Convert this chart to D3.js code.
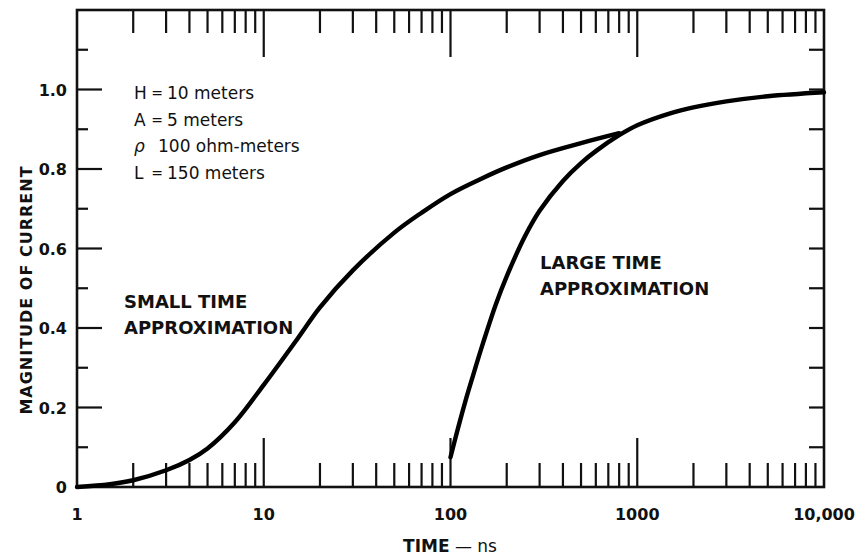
<!DOCTYPE html>
<html><head><meta charset="utf-8">
<script src="https://cdn.jsdelivr.net/npm/d3@7"></script>
<style>
html,body{margin:0;padding:0;background:#fff;}
svg{display:block;}
text{font-family:"DejaVu Sans","Liberation Sans",Arial,sans-serif;fill:#111;}
</style></head>
<body>
<svg id="chart" width="857" height="557"></svg>
<script>
// ---- data ----
const smallTimeT = [1, 1.5, 2, 3, 4, 5, 7, 10, 15, 20, 30, 50, 70, 100, 150, 200, 300, 500, 800];
const smallTimeI = [0, 0.007, 0.017, 0.042, 0.068, 0.097, 0.163, 0.257, 0.37, 0.452, 0.545, 0.64, 0.69, 0.737, 0.778, 0.804, 0.835, 0.865, 0.89];
const largeTimeT = [100, 110, 120, 130, 150, 175, 200, 250, 300, 400, 500, 600, 800, 1000, 1500, 2000, 3000, 5000, 10000];
const largeTimeI = [0.075, 0.15, 0.215, 0.27, 0.365, 0.46, 0.53, 0.63, 0.695, 0.77, 0.815, 0.845, 0.885, 0.91, 0.94, 0.955, 0.97, 0.983, 0.993];
const xTickValues = [1, 10, 100, 1000, 10000];
const xTickLabels = ["1", "10", "100", "1000", "10,000"];
const yTickValues = [0, 0.2, 0.4, 0.6, 0.8, 1.0];
const yTickLabels = ["0", "0.2", "0.4", "0.6", "0.8", "1.0"];
const paramLabels = ["H", "A", "\u03C1", "L"];
const paramSigns = ["=", "=", "", "="];
const paramValues = ["10 meters", "5 meters", "100 ohm-meters", "150 meters"];

const svg = d3.select("#chart");
const L = 77, R = 824, T = 10, B = 487;
const x = d3.scaleLog().domain([1, 10000]).range([L, R]);
const y = d3.scaleLinear().domain([0, 1.2]).range([B, T]);

// minor log ticks
const minorT = [];
for (let d = 1; d < 10000; d *= 10) for (let k = 2; k <= 9; k++) minorT.push(d * k);
const majorInner = [10, 100, 1000];

const g = svg.append("g").attr("stroke", "#111").attr("stroke-width", 2.2);
minorT.forEach(t => g.append("line").attr("x1", x(t)).attr("x2", x(t)).attr("y1", B).attr("y2", B - 24));
majorInner.forEach(t => g.append("line").attr("x1", x(t)).attr("x2", x(t)).attr("y1", B).attr("y2", B - 49));
minorT.forEach(t => g.append("line").attr("x1", x(t)).attr("x2", x(t)).attr("y1", T).attr("y2", T + 23));
majorInner.forEach(t => g.append("line").attr("x1", x(t)).attr("x2", x(t)).attr("y1", T).attr("y2", T + 47));
d3.range(1, 12).forEach(i => {
  const v = i / 10, major = i % 2 === 0;
  g.append("line").attr("x1", L).attr("x2", L + (major ? 25 : 11)).attr("y1", y(v)).attr("y2", y(v));
  g.append("line").attr("x1", R).attr("x2", R - 15).attr("y1", y(v)).attr("y2", y(v));
});
svg.append("rect").attr("x", L).attr("y", T).attr("width", R - L).attr("height", B - T)
  .attr("fill", "none").attr("stroke", "#111").attr("stroke-width", 2.6);

// tick labels
svg.append("g").selectAll("text").data(xTickValues).join("text")
  .attr("x", d => x(d)).attr("y", 520).attr("text-anchor", "middle")
  .attr("font-size", 16).attr("font-weight", "bold")
  .text((d, i) => xTickLabels[i]);
svg.append("g").selectAll("text").data(yTickValues).join("text")
  .attr("x", 67).attr("y", d => y(d) + 6).attr("text-anchor", "end")
  .attr("font-size", 16).attr("font-weight", "bold")
  .text((d, i) => yTickLabels[i]);

// axis titles
const xt = svg.append("text").attr("x", 450).attr("y", 552).attr("text-anchor", "middle").attr("font-size", 17);
xt.append("tspan").attr("font-weight", "bold").text("TIME");
xt.append("tspan").text(" \u2014 ns");
svg.append("text").attr("transform", "translate(32,290) rotate(-90)").attr("text-anchor", "middle")
  .attr("font-size", 16).attr("font-weight", "bold").attr("letter-spacing", 1).text("MAGNITUDE OF CURRENT");

// curves
const line = d3.line().x(d => x(d[0])).y(d => y(d[1])).curve(d3.curveCatmullRom.alpha(0.5));
svg.append("path").datum(smallTimeT.map((t, i) => [t, smallTimeI[i]]))
  .attr("d", line).attr("fill", "none").attr("stroke", "#000").attr("stroke-width", 4.4).attr("stroke-linecap", "round");
svg.append("path").datum(largeTimeT.map((t, i) => [t, largeTimeI[i]]))
  .attr("d", line).attr("fill", "none").attr("stroke", "#000").attr("stroke-width", 4.4).attr("stroke-linecap", "round");

// parameter annotations
const pg = svg.append("g").attr("font-size", 17);
paramLabels.forEach((p, i) => {
  const yy = 99 + i * 26.7;
  pg.append("text").attr("x", 134).attr("y", yy).attr("font-style", p === "\u03C1" ? "italic" : "normal").text(p);
  pg.append("text").attr("x", 157).attr("y", yy - 1).attr("text-anchor", "middle").attr("font-size", 14).text(paramSigns[i]);
  pg.append("text").attr("x", p === "\u03C1" ? 158 : 167).attr("y", yy).text(paramValues[i]);
});

// curve labels
const lg = svg.append("g").attr("font-size", 18).attr("font-weight", "bold");
lg.append("text").attr("x", 124).attr("y", 308).text("SMALL TIME");
lg.append("text").attr("x", 124).attr("y", 334).text("APPROXIMATION");
lg.append("text").attr("x", 540).attr("y", 269).text("LARGE TIME");
lg.append("text").attr("x", 540).attr("y", 295).text("APPROXIMATION");
</script>
</body></html>
